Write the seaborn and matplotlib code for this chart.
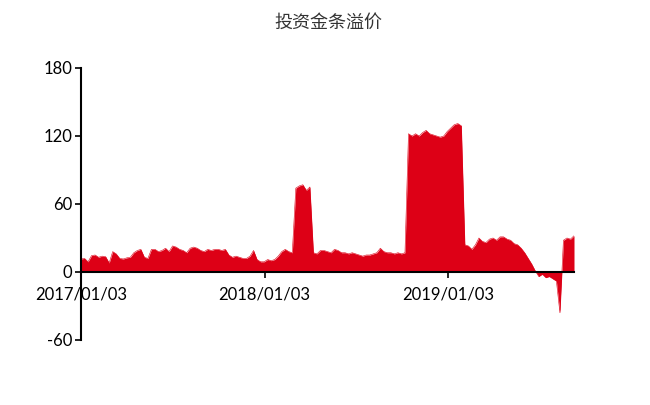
import numpy as np
import pandas as pd
import matplotlib
matplotlib.use("Agg")
import matplotlib.pyplot as plt
import matplotlib.dates as mdates
import seaborn as sns

# ---- data (weekly readings of the premium) ----
start_date = "2017-01-03"
premium = [
    11.5, 12, 9, 14.5, 15, 13, 14, 13.5, 8, 18,
    16, 12, 11.5, 12.5, 13, 17, 19, 20, 13, 12,
    20, 20, 18, 19, 21, 18, 23, 22, 20, 19,
    17, 21, 22, 21, 19, 18, 20, 19, 20, 20,
    19, 20, 15, 13, 14, 13, 12, 12, 14, 19,
    11, 9, 9, 11, 10, 11, 14, 18, 20, 18,
    17, 74, 76, 77, 72, 75, 17, 16, 19, 19,
    18, 17, 20, 19, 17, 17, 16, 17, 16, 15,
    14, 15, 15, 16, 17, 21, 18, 17, 17, 16,
    17, 16, 17, 122, 120, 122, 120, 123, 125, 122,
    121, 120, 119, 120, 124, 127, 130, 131, 129, 24,
    23, 20, 24, 30, 27, 26, 29, 30, 28, 31,
    31, 29, 28, 25, 24, 21, 17, 12, 7, 1,
    -4, -2, -5, -4, -6, -8, -36, 28, 30, 29,
    32,
]
title = "投资金条溢价"
x_tick_labels = ["2017/01/03", "2018/01/03", "2019/01/03"]
y_ticks = [-60, 0, 60, 120, 180]

dates = pd.date_range(start_date, periods=len(premium), freq="7D")
df = pd.DataFrame({"date": dates, "premium": premium})

sns.set_style("white")
plt.rcParams["font.family"] = ["Lato", "Noto Sans CJK SC", "DejaVu Sans"]

red = "#DD0016"
fig = plt.figure(figsize=(6.5, 4.05), dpi=100)
ax = fig.add_axes([81 / 650, 1 - 340 / 405, (574 - 81) / 650, (340 - 68) / 405])

sns.lineplot(data=df, x="date", y="premium", ax=ax, color=red, linewidth=0.4)
ax.fill_between(df["date"], 0, df["premium"], color=red, linewidth=0, zorder=1)

ax.set_xlim(dates[0], dates[-1])
ax.set_ylim(-60, 180)
ax.set_yticks(y_ticks)
ax.set_yticklabels([str(v) for v in y_ticks])
ax.set_xticks(pd.to_datetime(x_tick_labels, format="%Y/%m/%d"))
ax.set_xticklabels(x_tick_labels)
ax.set_xlabel("")
ax.set_ylabel("")

for s in ["top", "right"]:
    ax.spines[s].set_visible(False)
ax.spines["bottom"].set_position(("data", 0))
ax.spines["bottom"].set_color("black")
ax.spines["bottom"].set_linewidth(1.5)
ax.spines["left"].set_color("black")
ax.spines["left"].set_linewidth(1.5)
ax.spines["bottom"].set_zorder(5)
ax.spines["left"].set_zorder(5)

ax.tick_params(axis="y", direction="out", length=4.5, width=1.2, pad=2,
               labelsize=12, colors="black", left=True)
ax.tick_params(axis="x", direction="out", length=4.5, width=1.2, pad=6,
               labelsize=12, colors="black", bottom=True)

fig.text(0.505, 1 - 23 / 405, title, ha="center", va="center", fontsize=13,
         color="#333333", family=["Noto Sans CJK SC", "DejaVu Sans"])

fig.savefig("out.png", dpi=100, facecolor="white")
